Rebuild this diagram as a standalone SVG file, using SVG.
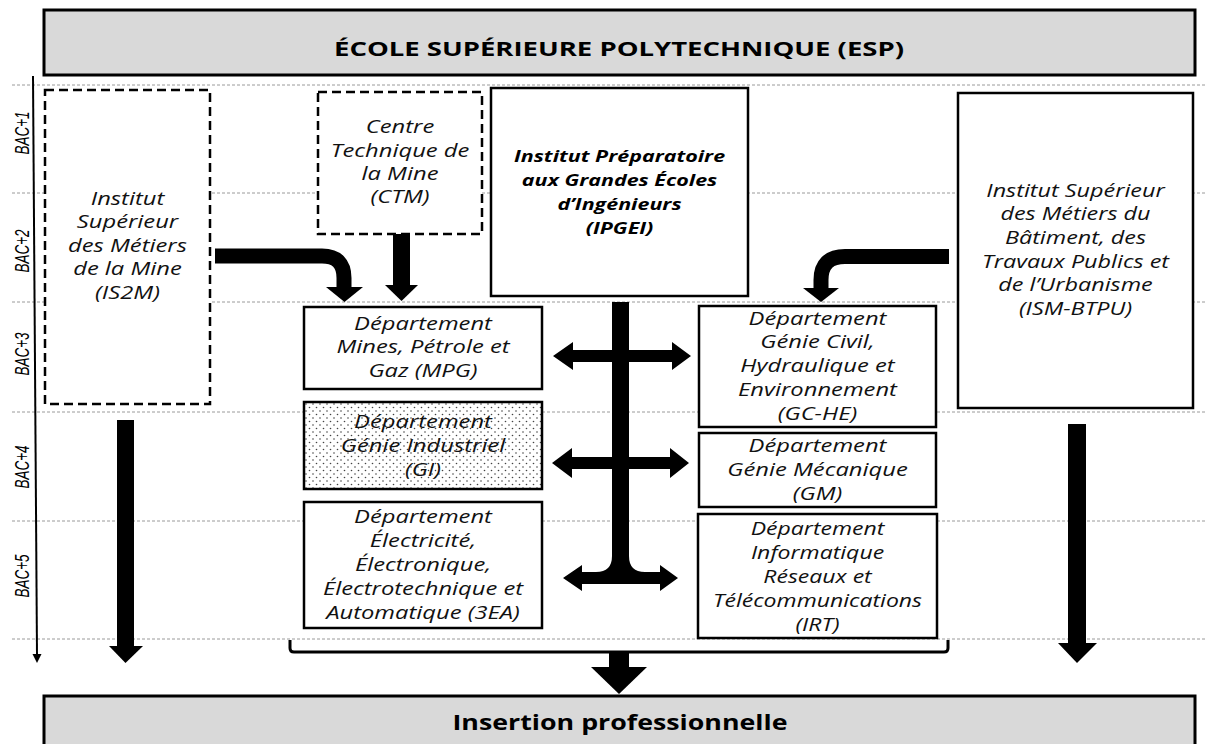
<svg xmlns="http://www.w3.org/2000/svg" width="1206" height="744" viewBox="0 0 1206 744">
<defs>
<style>
.grid{stroke:#9a9a9a;stroke-width:1;stroke-dasharray:3 2;fill:none}
.hdr{fill:#d9d9d9;stroke:#000;stroke-width:3}
.box{fill:#fff;stroke:#000;stroke-width:2.5}
.dbox{fill:#fff;stroke:#000;stroke-width:2.5;stroke-dasharray:9 5}
.t{font-family:"Open Sans","DejaVu Sans",sans-serif;font-style:italic;font-size:18px;text-anchor:middle;fill:#111}
.tb{font-family:"Open Sans","DejaVu Sans",sans-serif;font-style:italic;font-weight:bold;font-size:16.5px;text-anchor:middle;fill:#000}
.big{font-family:"Open Sans","DejaVu Sans",sans-serif;font-weight:bold;text-anchor:middle;fill:#000}
.bac{font-family:"Liberation Sans Narrow","Liberation Sans",Arial,sans-serif;font-style:italic;font-size:20px;text-anchor:middle;fill:#000}
.arr{fill:#000;stroke:none}
.shaft{fill:none;stroke:#000;stroke-width:15;stroke-linecap:butt}
</style>
<pattern id="dots" width="7" height="7" patternUnits="userSpaceOnUse">
<rect width="7" height="7" fill="#fff"/>
<circle cx="1.5" cy="1.5" r="0.8" fill="#444"/>
<circle cx="5" cy="5" r="0.8" fill="#444"/>
</pattern>
</defs>
<rect width="1206" height="744" fill="#fff"/>

<g id="grid">
<line class="grid" x1="12" y1="85" x2="1206" y2="85"/>
<line class="grid" x1="12" y1="193" x2="1206" y2="193"/>
<line class="grid" x1="12" y1="302" x2="1206" y2="302"/>
<line class="grid" x1="12" y1="412" x2="1206" y2="412"/>
<line class="grid" x1="12" y1="521" x2="1206" y2="521"/>
<line class="grid" x1="12" y1="639" x2="1206" y2="639"/>
</g>

<g id="axis">
<line x1="33" y1="76" x2="37" y2="655" stroke="#000" stroke-width="2"/>
<polygon points="32.5,654 41.5,654 37,663" fill="#000"/>
<text class="bac" transform="translate(29,133) rotate(-90)" textLength="43" lengthAdjust="spacingAndGlyphs">BAC+1</text>
<text class="bac" transform="translate(29,251) rotate(-90)" textLength="43" lengthAdjust="spacingAndGlyphs">BAC+2</text>
<text class="bac" transform="translate(29,354) rotate(-90)" textLength="43" lengthAdjust="spacingAndGlyphs">BAC+3</text>
<text class="bac" transform="translate(29,467) rotate(-90)" textLength="43" lengthAdjust="spacingAndGlyphs">BAC+4</text>
<text class="bac" transform="translate(29,576) rotate(-90)" textLength="43" lengthAdjust="spacingAndGlyphs">BAC+5</text>
</g>

<g id="esp">
<rect class="hdr" x="44" y="10" width="1151" height="65"/>
<text class="big" x="619" y="56" font-size="19.5" textLength="570" lengthAdjust="spacingAndGlyphs">ÉCOLE SUPÉRIEURE POLYTECHNIQUE (ESP)</text>
</g>

<g id="is2m">
<rect class="dbox" x="45" y="90" width="165" height="314"/>
<g transform="translate(127.5,0) scale(1.32,1)">
<text class="t" x="0" y="205">Institut</text>
<text class="t" x="0" y="228.5">Supérieur</text>
<text class="t" x="0" y="252">des Métiers</text>
<text class="t" x="0" y="275.5">de la Mine</text>
<text class="t" x="0" y="299">(IS2M)</text>
</g>
</g>

<g id="ctm">
<rect class="dbox" x="318" y="92" width="164" height="142"/>
<g transform="translate(400,0) scale(1.32,1)">
<text class="t" x="0" y="133">Centre</text>
<text class="t" x="0" y="157">Technique de</text>
<text class="t" x="0" y="180">la Mine</text>
<text class="t" x="0" y="203">(CTM)</text>
</g>
</g>

<g id="ipgei">
<rect class="box" x="491" y="88" width="257" height="208"/>
<g transform="translate(619.5,0) scale(1.3,1)">
<text class="tb" x="0" y="162">Institut Préparatoire</text>
<text class="tb" x="0" y="186">aux Grandes Écoles</text>
<text class="tb" x="0" y="210">d’Ingénieurs</text>
<text class="tb" x="0" y="234">(IPGEI)</text>
</g>
</g>

<g id="ismbtpu">
<rect class="box" x="958" y="93" width="235" height="315"/>
<g transform="translate(1075.5,0) scale(1.3,1)">
<text class="t" x="0" y="197">Institut Supérieur</text>
<text class="t" x="0" y="220.5">des Métiers du</text>
<text class="t" x="0" y="244">Bâtiment, des</text>
<text class="t" x="0" y="268">Travaux Publics et</text>
<text class="t" x="0" y="291.5">de l’Urbanisme</text>
<text class="t" x="0" y="315">(ISM-BTPU)</text>
</g>
</g>

<g id="mpg">
<rect class="box" x="304" y="307" width="238" height="82"/>
<g transform="translate(423,0) scale(1.32,1)">
<text class="t" x="0" y="330">Département</text>
<text class="t" x="0" y="353">Mines, Pétrole et</text>
<text class="t" x="0" y="377">Gaz (MPG)</text>
</g>
</g>

<g id="gi">
<rect class="box" x="304" y="402" width="238" height="87" style="fill:url(#dots)"/>
<g transform="translate(423,0) scale(1.32,1)">
<text class="t" x="0" y="428">Département</text>
<text class="t" x="0" y="452">Génie Industriel</text>
<text class="t" x="0" y="476">(GI)</text>
</g>
</g>

<g id="eea">
<rect class="box" x="304" y="502" width="238" height="126"/>
<g transform="translate(423,0) scale(1.32,1)">
<text class="t" x="0" y="523">Département</text>
<text class="t" x="0" y="547">Électricité,</text>
<text class="t" x="0" y="571">Électronique,</text>
<text class="t" x="0" y="595">Électrotechnique et</text>
<text class="t" x="0" y="619">Automatique (3EA)</text>
</g>
</g>

<g id="gche">
<rect class="box" x="699" y="306" width="237" height="121"/>
<g transform="translate(817.5,0) scale(1.32,1)">
<text class="t" x="0" y="325">Département</text>
<text class="t" x="0" y="348.5">Génie Civil,</text>
<text class="t" x="0" y="372">Hydraulique et</text>
<text class="t" x="0" y="396">Environnement</text>
<text class="t" x="0" y="420">(GC-HE)</text>
</g>
</g>

<g id="gm">
<rect class="box" x="699" y="433" width="237" height="74"/>
<g transform="translate(817.5,0) scale(1.32,1)">
<text class="t" x="0" y="452">Département</text>
<text class="t" x="0" y="476">Génie Mécanique</text>
<text class="t" x="0" y="500">(GM)</text>
</g>
</g>

<g id="irt">
<rect class="box" x="698" y="514" width="239" height="124"/>
<g transform="translate(817.5,0) scale(1.28,1)">
<text class="t" x="0" y="535">Département</text>
<text class="t" x="0" y="559">Informatique</text>
<text class="t" x="0" y="583">Réseaux et</text>
<text class="t" x="0" y="607">Télécommunications</text>
<text class="t" x="0" y="631">(IRT)</text>
</g>
</g>

<g id="insertion">
<rect class="hdr" x="44" y="696" width="1151" height="60"/>
<text class="big" x="620" y="730" font-size="21" textLength="335" lengthAdjust="spacingAndGlyphs">Insertion professionnelle</text>
</g>

<g id="connectors">
<path class="shaft" d="M215,256 H322 Q344,256 344,278 V288"/>
<polygon class="arr" points="326,287 363,287 344.5,302"/>
<rect class="arr" x="393" y="234" width="17" height="52"/>
<polygon class="arr" points="385,285 418,285 401.5,301"/>
<path class="shaft" d="M949,256.5 H845 Q821,256.5 821,280 V289"/>
<polygon class="arr" points="803,288 839,288 821,302"/>
<path class="arr" d="M612,302 H629 V556 Q629,572 645,572 H660 V565 L678,578 L660,591 V584 H582 V591 L563,578 L582,565 V572 H596 Q612,572 612,556 Z"/>
<path class="arr" d="M553,356 L573,342 V350 H672 V342 L691,356 L672,370 V362 H573 V370 Z"/>
<path class="arr" d="M552,463 L572,448 V457 H670 V448 L689,463 L670,478 V469 H572 V478 Z"/>
<rect class="arr" x="117" y="420" width="17" height="227"/>
<polygon class="arr" points="109,646 143,646 125.5,663"/>
<rect class="arr" x="1068" y="424" width="18" height="220"/>
<polygon class="arr" points="1058,643 1097,643 1077,663"/>
<path d="M290,640 V648 Q290,652 294,652 H944 Q948,652 948,648 V640" fill="none" stroke="#000" stroke-width="3"/>
<rect class="arr" x="609" y="652" width="20" height="16"/>
<polygon class="arr" points="591,667 647,667 619,694"/>
</g>
</svg>
